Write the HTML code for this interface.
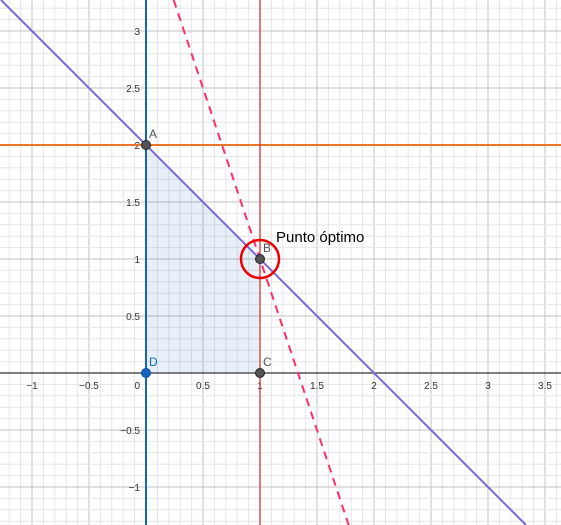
<!DOCTYPE html>
<html><head><meta charset="utf-8"><style>
html,body{margin:0;padding:0;background:#fff;}
svg{display:block;font-family:"Liberation Sans",sans-serif;}
</style></head><body>
<svg id="chart" width="561" height="525" viewBox="0 0 561 525" xmlns="http://www.w3.org/2000/svg">
<g id="grid"></g>
<g id="axes"></g>
<g id="marks"></g>
</svg>
<script>
const xTicks=[-1,-0.5,0.5,1,1.5,2,2.5,3,3.5];
const yTicks=[-1,-0.5,0.5,1,1.5,2,2.5,3];
const region=[[0,0],[0,2],[1,1],[1,0]];
const pointNames=["A","B","C","D"];
const pointX=[0,1,1,0];
const pointY=[2,1,0,0];
const line1=[1,1,2]; // x + y = 2
const line2=[3,1,4]; // 3x + y = 4
const hLineY=[2];
const vLineX=[0,1];
const optimum=[1,1];

const X0=146,Y0=373,S=114,W=561,H=525;
const sx=x=>X0+x*S, sy=y=>Y0-y*S;
const ix=p=>(p-X0)/S, iy=p=>(Y0-p)/S;
const NS="http://www.w3.org/2000/svg";
function mk(tag,attrs,parent){const e=document.createElementNS(NS,tag);for(const k in attrs)e.setAttribute(k,attrs[k]);parent.appendChild(e);return e;}
const grid=document.getElementById('grid'),axes=document.getElementById('axes'),marks=document.getElementById('marks');

for(let i=Math.ceil(ix(0)*10);i<=Math.floor(ix(W)*10);i++){
  const maj=i%5===0;
  const l=mk('line',{x1:sx(i/10),x2:sx(i/10),y1:0,y2:H,stroke:maj?'#c0c0c0':'#e6e6e6','stroke-width':1},grid);
  
  
}
for(let i=Math.ceil(iy(H)*10);i<=Math.floor(iy(0)*10);i++){
  const maj=i%5===0;
  const l=mk('line',{x1:0,x2:W,y1:sy(i/10),y2:sy(i/10),stroke:maj?'#c0c0c0':'#e6e6e6','stroke-width':1},grid);
  
  
}
let a=mk('line',{x1:0,x2:W,y1:Y0,y2:Y0,stroke:'#333','stroke-width':1.2},axes);

a=mk('line',{x1:X0,x2:X0,y1:0,y2:H,stroke:'#333','stroke-width':1.2},axes);

xTicks.forEach(v=>{
  const t=mk('text',{x:sx(v),y:Y0+16,'font-size':10,fill:'#333','text-anchor':'middle'},axes);
  t.textContent=(v<0?'\u2212'+(-v):v);
  
});
yTicks.forEach(v=>{
  const t=mk('text',{x:X0-6,y:sy(v)+4,'font-size':10,fill:'#333','text-anchor':'end'},axes);
  t.textContent=(v<0?'\u2212'+(-v):v);
  
});
let z=mk('text',{x:X0-6,y:Y0+16,'font-size':10,fill:'#333','text-anchor':'end'},axes);z.textContent='0';


let p=mk('polygon',{points:region.map(q=>sx(q[0])+','+sy(q[1])).join(' '),fill:'rgba(21,101,192,0.1)',stroke:'none'},marks);


function lineABC(c,attrs,name){
  const [A,B,C]=c;const y1=iy(0),y2=iy(H);
  const l=mk('line',Object.assign({x1:sx((C-B*y1)/A),y1:0,x2:sx((C-B*y2)/A),y2:H},attrs),marks);
  
}
hLineY.forEach(v=>{const l=mk('line',{x1:0,x2:W,y1:sy(v),y2:sy(v),stroke:'#e8772e','stroke-width':2},marks);
  });
const vc=['#1565c0','#d32f2f'];
vLineX.forEach((v,i)=>{const l=mk('line',{x1:sx(v),x2:sx(v),y1:0,y2:H,stroke:vc[i],'stroke-width':i?1.5:2,'stroke-opacity':i?0.8:1},marks);
  });
lineABC(line1,{stroke:'#7b68d9','stroke-width':2},'constraint-x-plus-y');
lineABC(line2,{stroke:'#ff2d6a','stroke-width':2,'stroke-dasharray':'8,6'},'objective-line');

let c=mk('circle',{cx:sx(optimum[0]),cy:sy(optimum[1]),r:19,fill:'none',stroke:'#e00','stroke-width':2.5},marks);

pointNames.forEach((n,i)=>{
  const d=n==='D';
  const pt=mk('circle',{cx:sx(pointX[i]),cy:sy(pointY[i]),r:4.5,fill:d?'#1565c0':'#555',stroke:d?'#0d47a1':'#222','stroke-width':1},marks);
  
  const t=mk('text',{x:sx(pointX[i])+3,y:sy(pointY[i])-7,'font-size':12,fill:d?'#1565c0':'#555'},marks);
  t.textContent=n;
});
let lab=mk('text',{x:sx(optimum[0])+16,y:sy(optimum[1])-17,'font-size':15,fill:'#000'},marks);
lab.textContent='Punto óptimo';

</script>
</body></html>
